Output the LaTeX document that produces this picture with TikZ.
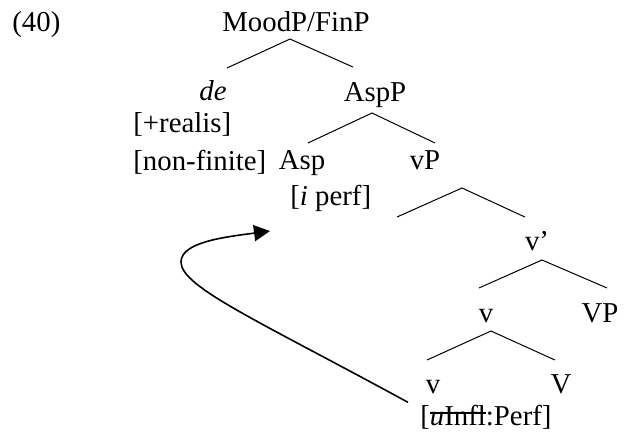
\documentclass[tikz,border=0pt]{standalone}
\usepackage{fontspec}
\setmainfont{Liberation Serif}
\usetikzlibrary{arrows.meta}

\newcommand{\crossout}[1]{\sbox0{#1}\rlap{\rule[0.38em]{\wd0}{0.9pt}}\usebox0}

\tikzset{
  cat/.style={inner sep=0pt, anchor=base},
  feat/.style={inner sep=0pt, anchor=base west},
  branch/.style={line width=0.5pt},
  move/.style={line width=0.8pt, -{Triangle[length=8pt,width=8pt]}}
}

\begin{document}
\begin{tikzpicture}[font=\fontsize{14.4}{17}\selectfont]
                \useasboundingbox (0,0) rectangle (10.966,7.592);
                % labels of the tree
                \node(ex)     at(0.211, 7.047) [feat] {(40)};
                \node(moodp)  at(5.202, 7.047) [cat]  {MoodP/FinP};
                \node(de)     at(3.743, 5.834) [cat]  {\textit{de}};
                \node(aspp)   at(6.590, 5.817) [cat]  {AspP};
                \node(realis) at(2.337, 5.272) [feat] {[+realis]};
                \node(nonfin) at(2.337, 4.604) [feat] {[non-finite]};
                \node(asp)    at(5.307, 4.622) [cat]  {Asp};
                \node(vp)     at(7.469, 4.622) [cat]  {vP};
                \node(iperf)  at(5.096, 3.989) [feat] {[\textit{i} perf]};
                \node(vbar)   at(9.437, 3.198) [cat]  {v’};
                \node(vsmall) at(8.540, 1.933) [cat]  {v};
                \node(bigvp)  at(10.544,1.933) [cat]  {VP};
                \node(vhead)  at(7.609, 0.685) [cat]  {v};
                \node(bigv)   at(9.858, 0.685) [cat]  {V};
                \node(uinfl)  at(7.381, 0.123) [feat] {[\crossout{\textit{u}Infl}:Perf]};
                % branches
                \draw[branch] (3.989,6.397) -- (5.096,6.906) -- (6.203,6.414);
                \draw[branch] (5.412,5.079) -- (6.537,5.606) -- (7.644,5.079);
                \draw[branch] (6.976,3.778) -- (8.119,4.288) -- (9.226,3.778);
                \draw[branch] (8.417,2.531) -- (9.525,3.023) -- (10.667,2.531);
                \draw[branch] (7.504,1.265) -- (8.628,1.775) -- (9.753,1.265);
                % movement
                \coordinate(land) at(4.745, 3.532);
                \draw[move] ([xshift=-6pt, yshift=1pt]uinfl.north west)
                    .. controls (4.534,1.959) and (3.181,2.548) .. (3.181,2.987)
                    .. controls (3.181,3.339) and (3.954,3.427) .. (land);
            \end{tikzpicture}
\end{document}
